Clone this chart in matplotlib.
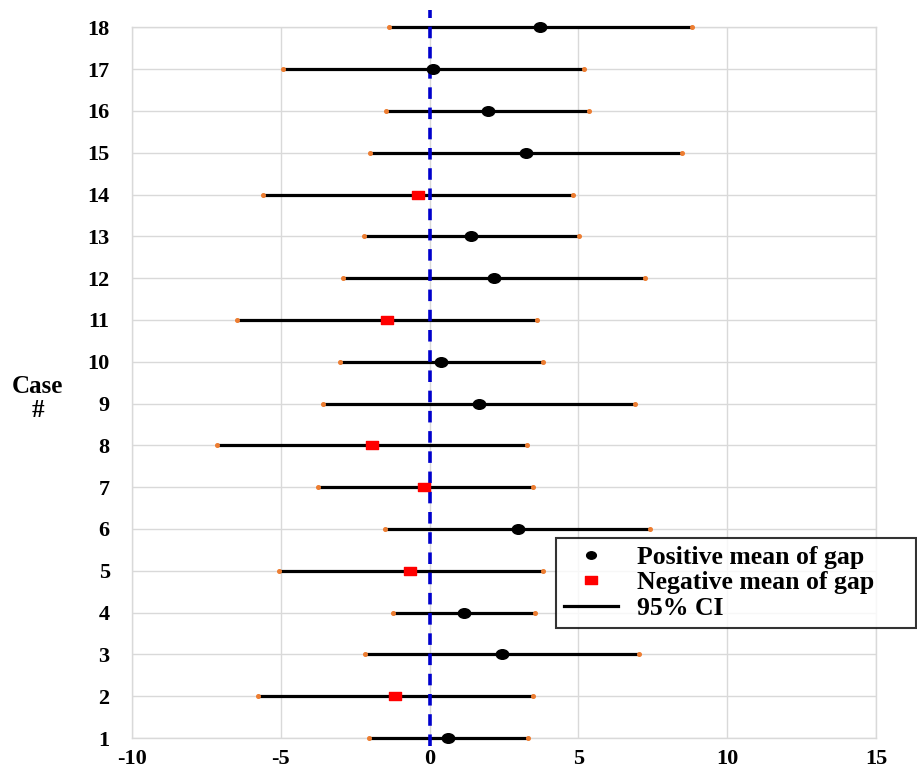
import matplotlib
matplotlib.use("Agg")
import matplotlib.pyplot as plt
from matplotlib.lines import Line2D
from matplotlib.markers import MarkerStyle
from matplotlib.path import Path
from matplotlib.transforms import Affine2D

plt.rcParams["axes.unicode_minus"] = False

# Case numbers and gap statistics (mean with 95% confidence interval)
cases = list(range(1, 19))
means = [0.63, -1.16, 2.42, 1.17, -0.66, 2.96, -0.19, -1.93, 1.66,
         0.37, -1.42, 2.18, 1.40, -0.38, 3.23, 1.95, 0.12, 3.72]
ci_low = [-2.04, -5.78, -2.17, -1.22, -5.06, -1.50, -3.74, -7.14, -3.57,
          -3.02, -6.48, -2.90, -2.20, -5.60, -2.00, -1.47, -4.93, -1.36]
ci_high = [3.30, 3.46, 7.04, 3.55, 3.82, 7.40, 3.48, 3.26, 6.90,
           3.80, 3.62, 7.25, 5.02, 4.83, 8.47, 5.37, 5.20, 8.81]
x_ticks = [-10, -5, 0, 5, 10, 15]

serif = ["Liberation Serif", "DejaVu Serif"]
grid_c = "#d9d9d9"

# Slightly wide markers: ellipse for positive means, flat box for negative
oval = MarkerStyle(Path.unit_circle().transformed(Affine2D().scale(1.3, 1.0)))
flat_box = MarkerStyle(Path.unit_rectangle().transformed(
    Affine2D().translate(-0.5, -0.5).scale(1.45, 1.0)))

fig = plt.figure(figsize=(9.17, 7.75), dpi=100)
ax = fig.add_axes([0.1439, 0.0477, 0.8114, 0.9171])

ax.set_xlim(-10, 15)
ax.set_ylim(1, 18)
ax.set_xticks(x_ticks)
ax.set_yticks(cases)
ax.grid(True, color=grid_c, linewidth=1.0)
ax.set_axisbelow(True)
for s in ax.spines.values():
    s.set_color(grid_c)
    s.set_linewidth(1.0)
ax.tick_params(length=0)
ax.tick_params(axis="y", pad=16)
ax.tick_params(axis="x", pad=8)
for lab in ax.get_xticklabels() + ax.get_yticklabels():
    lab.set_fontfamily(serif)
    lab.set_fontweight("bold")
    lab.set_fontsize(16)

# Confidence interval bars with small orange end caps
for c, lo, hi in zip(cases, ci_low, ci_high):
    ax.plot([lo, hi], [c, c], color="black", linewidth=2.3, zorder=3,
            solid_capstyle="butt", clip_on=False)
    ax.plot([lo, hi], [c, c], linestyle="none", marker="o", markersize=2.6,
            color="#ed7d31", zorder=4, clip_on=False)

# Zero reference line
ax.plot([0, 0], [0.82, 18.42], color="#0000cc", linewidth=2.6,
        linestyle=(0, (3.2, 2.4)), zorder=5, clip_on=False)

# Means: black oval when positive, red box when negative
for c, m in zip(cases, means):
    if m >= 0:
        ax.plot(m, c, marker=oval, markersize=9, color="black",
                linestyle="none", zorder=6, clip_on=False)
    else:
        ax.plot(m, c, marker=flat_box, markersize=9, color="#ff0000",
                linestyle="none", zorder=6, clip_on=False)

fig.text(0.041, 0.486, "Case\n#", ha="center", va="center",
         fontfamily=serif, fontweight="bold", fontsize=18, linespacing=1.05)

handles = [
    Line2D([], [], marker=oval, markersize=7, color="black", linestyle="none"),
    Line2D([], [], marker=flat_box, markersize=8.5, color="#ff0000",
           linestyle="none"),
    Line2D([], [], color="black", linewidth=2.3),
]
labels = ["Positive mean of gap", "Negative mean of gap", "95% CI"]
leg_x0, leg_top, leg_w = 556 / 917, 1 - 538 / 775, 360 / 917
leg = fig.legend(handles, labels, loc="upper left", mode="expand",
                 bbox_to_anchor=(leg_x0, leg_top - 0.2, leg_w, 0.2),
                 prop={"family": serif, "weight": "bold", "size": 18.5},
                 frameon=True, fancybox=False, edgecolor="black",
                 handlelength=2.1, handletextpad=0.75, labelspacing=0.1,
                 borderpad=0.3, borderaxespad=0)
leg.get_frame().set_linewidth(1.5)

fig.savefig("out.png", dpi=100, facecolor="white")
